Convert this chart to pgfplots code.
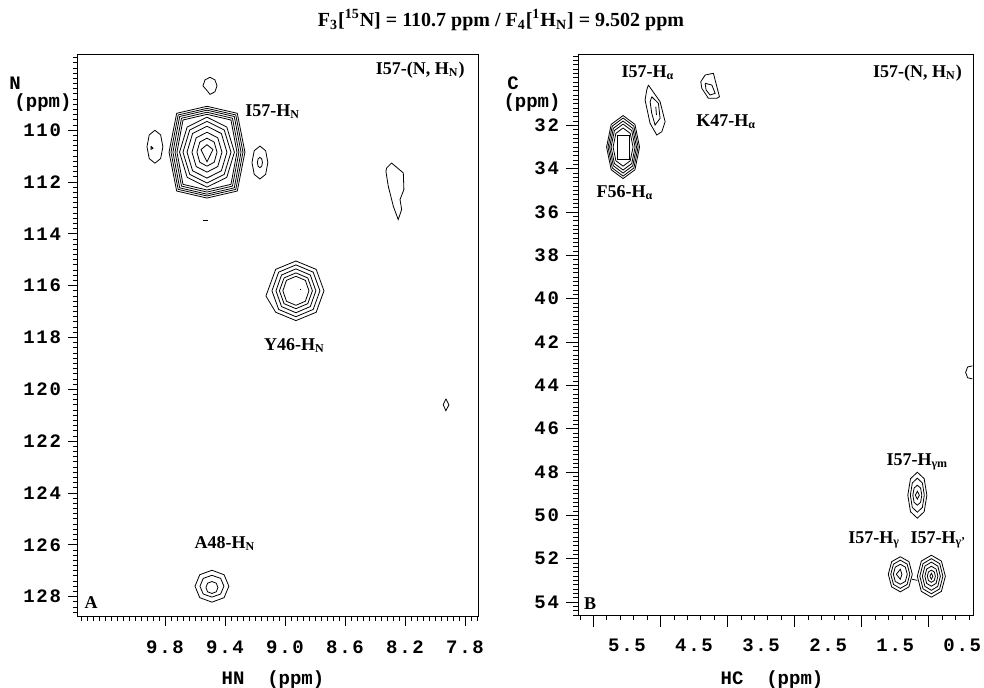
\documentclass[border=0pt]{standalone}
\usepackage{fontspec}
\setmainfont{Liberation Serif}
\setmonofont{Liberation Mono}
\newfontfamily\tickfont{Liberation Mono}[LetterSpace=9]
\usepackage{pgfplots}
\pgfplotsset{compat=1.18}
\tikzset{lbl/.style={font=\fontsize{9}{10}\selectfont\bfseries, inner sep=0pt}}
\pgfplotsset{
  nmr/.style={
    scale only axis, clip=false, axis line style={line width=0.5pt},
    x dir=reverse, y dir=reverse,
    tick align=outside, tick pos=left,
    major tick length=6pt, minor tick length=2.5pt,
    tick style={black, line width=0.4pt},
    tick label style={font=\fontsize{9.5}{10}\selectfont\tickfont\bfseries},
    cycle list={{black, no markers, line width=0.4pt, sharp plot}},
  },
}
\begin{document}
\begin{tikzpicture}
\path[use as bounding box] (0,0) rectangle (492pt,-344pt);
% ---------------- Panel A ----------------
\begin{axis}[nmr, at={(39pt,-27.5pt)}, anchor=north west,
  width=200pt, height=280.5pt,
  xmin=7.713, xmax=10.38, ymin=107.1, ymax=128.75,
  major tick length=5pt,
  xtick={7.8,8.2,8.6,9.0,9.4,9.8}, xticklabels={7.8,8.2,8.6,9.0,9.4,9.8},
  xticklabel style={yshift=-4pt},
  minor xtick={7.72,7.76,...,10.37},
  ytick={110,112,...,128}, yticklabels={110,112,114,116,118,120,122,124,126,128},
  minor ytick={107.2,107.4,...,128.7}]
% I57-HN main peak
\addplot coordinates {(9.773,110.85)(9.722,112.35)(9.52,112.62)(9.318,112.35)(9.267,110.85)(9.318,109.35)(9.52,109.08)(9.722,109.35)(9.773,110.85)};
\addplot coordinates {(9.76,110.85)(9.712,112.287)(9.52,112.54)(9.328,112.287)(9.28,110.85)(9.328,109.413)(9.52,109.16)(9.712,109.413)(9.76,110.85)};
\addplot coordinates {(9.747,110.85)(9.702,112.227)(9.52,112.47)(9.338,112.227)(9.293,110.85)(9.338,109.473)(9.52,109.23)(9.702,109.473)(9.747,110.85)};
\addplot coordinates {(9.733,110.85)(9.69,112.159)(9.52,112.39)(9.35,112.159)(9.307,110.85)(9.35,109.541)(9.52,109.31)(9.69,109.541)(9.733,110.85)};
\addplot coordinates {(9.72,110.85)(9.68,112.091)(9.52,112.31)(9.36,112.091)(9.32,110.85)(9.36,109.609)(9.52,109.39)(9.68,109.609)(9.72,110.85)};
\addplot coordinates {(9.703,110.85)(9.652,111.822)(9.52,112.2)(9.388,111.822)(9.337,110.85)(9.388,109.878)(9.52,109.5)(9.652,109.878)(9.703,110.85)};
\addplot coordinates {(9.68,110.85)(9.635,111.707)(9.52,112.04)(9.405,111.707)(9.36,110.85)(9.405,109.993)(9.52,109.66)(9.635,109.993)(9.68,110.85)};
\addplot coordinates {(9.653,110.85)(9.616,111.57)(9.52,111.85)(9.424,111.57)(9.387,110.85)(9.424,110.13)(9.52,109.85)(9.616,110.13)(9.653,110.85)};
\addplot coordinates {(9.62,110.85)(9.592,111.404)(9.52,111.62)(9.448,111.404)(9.42,110.85)(9.448,110.296)(9.52,110.08)(9.592,110.296)(9.62,110.85)};
\addplot coordinates {(9.587,110.85)(9.568,111.239)(9.52,111.39)(9.472,111.239)(9.453,110.85)(9.472,110.461)(9.52,110.31)(9.568,110.461)(9.587,110.85)};
\addplot coordinates {(9.56,110.75)(9.52,110.56)(9.48,110.75)(9.52,111.22)(9.56,110.75)};
% side peaks
\addplot coordinates {(9.547,108.29)(9.513,108.52)(9.50,108.62)(9.467,108.52)(9.453,108.29)(9.467,108.06)(9.50,107.96)(9.533,108.06)(9.547,108.29)};
\addplot coordinates {(9.92,110.64)(9.905,111.097)(9.867,111.275)(9.829,111.097)(9.814,110.64)(9.829,110.183)(9.867,110.005)(9.905,110.183)(9.92,110.64)};
\addplot coordinates {(9.893,110.62)(9.88,110.7)(9.893,110.74)(9.893,110.62)};
\addplot coordinates {(9.22,111.25)(9.205,111.707)(9.167,111.885)(9.129,111.707)(9.114,111.25)(9.129,110.793)(9.167,110.615)(9.205,110.793)(9.22,111.25)};
\addplot coordinates {(9.184,111.25)(9.179,111.39)(9.167,111.45)(9.155,111.39)(9.15,111.25)(9.155,111.11)(9.167,111.05)(9.179,111.11)(9.184,111.25)};
\addplot coordinates {(9.545,113.48)(9.515,113.48)};
% peak near 8.25
\addplot coordinates {(8.322,111.46)(8.289,111.27)(8.211,111.65)(8.207,112.29)(8.233,112.68)(8.222,113.06)(8.245,113.45)(8.278,112.93)(8.311,112.17)(8.327,111.59)(8.322,111.46)};
% peak near 7.93
\addplot coordinates {(7.927,120.37)(7.907,120.6)(7.927,120.83)(7.945,120.6)(7.927,120.37)};
% Y46-HN
\addplot coordinates {(9.127,116.4)(9.062,117.028)(8.927,117.35)(8.792,117.028)(8.74,116.2)(8.792,115.372)(8.927,115.05)(9.062,115.372)(9.127,116.4)};
\addplot coordinates {(9.087,116.2)(9.042,116.92)(8.927,117.2)(8.812,116.92)(8.767,116.2)(8.812,115.48)(8.927,115.2)(9.042,115.48)(9.087,116.2)};
\addplot coordinates {(9.06,116.2)(9.023,116.809)(8.927,117.046)(8.831,116.809)(8.794,116.2)(8.831,115.591)(8.927,115.354)(9.023,115.591)(9.06,116.2)};
\addplot coordinates {(9.037,116.2)(9.006,116.697)(8.927,116.89)(8.848,116.697)(8.817,116.2)(8.848,115.703)(8.927,115.51)(9.006,115.703)(9.037,116.2)};
\addplot coordinates {(9.014,116.2)(8.99,116.603)(8.927,116.76)(8.864,116.603)(8.84,116.2)(8.864,115.797)(8.927,115.64)(8.99,115.797)(9.014,116.2)};
\addplot coordinates {(8.9,116.14)(8.89,116.14)};
% A48-HN
\addplot coordinates {(9.60,127.6)(9.568,128.043)(9.487,128.215)(9.406,128.043)(9.374,127.6)(9.406,127.157)(9.487,126.985)(9.568,127.157)(9.60,127.6)};
\addplot coordinates {(9.567,127.6)(9.545,127.902)(9.487,128.02)(9.429,127.902)(9.407,127.6)(9.429,127.298)(9.487,127.18)(9.545,127.298)(9.567,127.6)};
\addplot coordinates {(9.527,127.65)(9.516,127.816)(9.487,127.88)(9.458,127.816)(9.447,127.65)(9.458,127.484)(9.487,127.42)(9.516,127.484)(9.527,127.65)};
% labels
\node[lbl, anchor=east] at (axis cs:7.80,107.68) {I57-(N, H\textsubscript{N})};
\node[lbl, anchor=west] at (axis cs:9.267,109.29) {I57-H\textsubscript{N}};
\node[lbl] at (axis cs:8.937,118.3) {Y46-H\textsubscript{N}};
\node[lbl] at (axis cs:9.40,125.95) {A48-H\textsubscript{N}};
\node[lbl] at (axis cs:10.293,128.25) {A};
\end{axis}
% ---------------- Panel B ----------------
\begin{axis}[nmr, at={(289pt,-27.5pt)}, anchor=north west,
  width=197.5pt, height=280pt,
  xmin=0.34, xmax=6.23, ymin=28.75, ymax=54.6,
  xtick={1,2,3,4,5,6}, xticklabels={},
  extra x ticks={0.5,1.5,2.5,3.5,4.5,5.5},
  extra x tick labels={0.5,1.5,2.5,3.5,4.5,5.5},
  extra x tick style={major tick length=0pt},
  xticklabel style={yshift=-8.5pt},
  minor xtick={0.4,0.6,...,6.21},
  ytick={32,34,...,54}, yticklabels={32,34,36,38,40,42,44,46,48,50,52,54},
  minor ytick={28.8,29.0,...,54.6}]
% F56-Ha
\addplot coordinates {(5.804,33.0)(5.735,34.048)(5.558,34.455)(5.381,34.048)(5.312,33.0)(5.381,31.952)(5.558,31.545)(5.735,31.952)(5.804,33.0)};
\addplot coordinates {(5.782,33)(5.719,33.965)(5.558,34.34)(5.397,33.965)(5.334,33)(5.397,32.035)(5.558,31.66)(5.719,32.035)(5.782,33)};
\addplot coordinates {(5.759,33)(5.703,33.864)(5.558,34.2)(5.413,33.864)(5.357,33)(5.413,32.136)(5.558,31.8)(5.703,32.136)(5.759,33)};
\addplot coordinates {(5.737,33)(5.687,33.763)(5.558,34.06)(5.429,33.763)(5.379,33)(5.429,32.237)(5.558,31.94)(5.687,32.237)(5.737,33)};
\addplot coordinates {(5.707,33)(5.665,33.634)(5.558,33.88)(5.451,33.634)(5.409,33)(5.451,32.366)(5.558,32.12)(5.665,32.366)(5.707,33)};
\addplot coordinates {(5.648,32.45)(5.648,33.55)(5.468,33.55)(5.468,32.45)(5.648,32.45)};
% I57-Ha
\addplot coordinates {(5.181,30.136)(5.006,30.907)(4.931,31.831)(4.981,32.293)(5.055,32.445)(5.155,31.905)(5.23,30.829)(5.205,30.367)(5.181,30.136)};
\addplot coordinates {(5.13,30.676)(5.031,30.981)(5.006,31.674)(5.081,31.983)(5.13,31.443)(5.155,30.907)(5.13,30.676)};
\addplot coordinates {(5.07,31.14)(5.06,31.52)};
% K47-Ha
\addplot coordinates {(4.334,29.674)(4.211,29.595)(4.185,29.905)(4.121,30.676)(4.16,30.75)(4.285,30.75)(4.384,30.288)(4.399,29.983)(4.334,29.674)};
\addplot coordinates {(4.334,30.057)(4.234,30.136)(4.185,30.519)(4.26,30.598)(4.32,30.367)(4.334,30.057)};
% edge contour
\addplot coordinates {(0.35,43.1)(0.42,43.15)(0.45,43.4)(0.42,43.65)(0.35,43.7)};
% I57-Hgm
\addplot coordinates {(1.312,49.07)(1.272,49.833)(1.17,50.13)(1.068,49.833)(1.028,49.07)(1.068,48.307)(1.17,48.01)(1.272,48.307)(1.312,49.07)};
\addplot coordinates {(1.274,49.07)(1.245,49.635)(1.17,49.855)(1.095,49.635)(1.066,49.07)(1.095,48.505)(1.17,48.285)(1.245,48.505)(1.274,49.07)};
\addplot coordinates {(1.237,49.07)(1.218,49.401)(1.17,49.53)(1.122,49.401)(1.103,49.07)(1.122,48.739)(1.17,48.61)(1.218,48.739)(1.237,49.07)};
\addplot coordinates {(1.20,49.07)(1.17,49.25)(1.14,49.07)(1.17,48.89)(1.20,49.07)};
% I57-Hg
\addplot coordinates {(1.603,52.72)(1.553,53.303)(1.424,53.53)(1.295,53.303)(1.245,52.72)(1.295,52.137)(1.424,51.91)(1.553,52.137)(1.603,52.72)};
\addplot coordinates {(1.566,52.72)(1.526,53.188)(1.424,53.37)(1.322,53.188)(1.282,52.72)(1.322,52.252)(1.424,52.07)(1.526,52.252)(1.566,52.72)};
\addplot coordinates {(1.528,52.72)(1.499,53.051)(1.424,53.18)(1.349,53.051)(1.32,52.72)(1.349,52.389)(1.424,52.26)(1.499,52.389)(1.528,52.72)};
\addplot coordinates {(1.484,52.72)(1.424,52.95)(1.40,52.72)(1.424,52.49)(1.484,52.72)};
\addplot coordinates {(1.25,52.95)(1.17,53.0)};
% I57-Hg'
\addplot coordinates {(1.17,52.81)(1.111,53.508)(0.961,53.78)(0.811,53.508)(0.752,52.81)(0.811,52.112)(0.961,51.84)(1.111,52.112)(1.17,52.81)};
\addplot coordinates {(1.133,52.81)(1.085,53.393)(0.961,53.62)(0.837,53.393)(0.789,52.81)(0.837,52.227)(0.961,52.0)(1.085,52.227)(1.133,52.81)};
\addplot coordinates {(1.095,52.81)(1.057,53.278)(0.961,53.46)(0.865,53.278)(0.827,52.81)(0.865,52.342)(0.961,52.16)(1.057,52.342)(1.095,52.81)};
\addplot coordinates {(1.058,52.81)(1.031,53.141)(0.961,53.27)(0.891,53.141)(0.864,52.81)(0.891,52.479)(0.961,52.35)(1.031,52.479)(1.058,52.81)};
\addplot coordinates {(1.021,52.81)(1.004,53.01)(0.961,53.09)(0.918,53.01)(0.901,52.81)(0.918,52.61)(0.961,52.53)(1.004,52.61)(1.021,52.81)};
\addplot coordinates {(0.983,52.81)(0.961,52.95)(0.939,52.81)(0.961,52.67)(0.983,52.81)};
% labels
\node[lbl] at (axis cs:5.185,29.58) {I57-H\textsubscript{α}};
\node[lbl] at (axis cs:4.021,31.84) {K47-H\textsubscript{α}};
\node[lbl] at (axis cs:5.529,35.08) {F56-H\textsubscript{α}};
\node[lbl, anchor=east] at (axis cs:0.50,29.58) {I57-(N, H\textsubscript{N})};
\node[lbl] at (axis cs:1.17,47.55) {I57-H\textsubscript{γm}};
\node[lbl] at (axis cs:1.812,51.15) {I57-H\textsubscript{γ}};
\node[lbl] at (axis cs:0.857,51.15) {I57-H\textsubscript{γ’}};
\node[lbl] at (axis cs:6.05,54.06) {B};
\end{axis}
% ---------------- outer texts ----------------
\node[font=\fontsize{10}{12}\selectfont\bfseries] at (250.5pt,-10pt) {F\textsubscript{3}[\textsuperscript{15}N] = 110.7 ppm / F\textsubscript{4}[\textsuperscript{1}H\textsubscript{N}] = 9.502 ppm};
\begin{scope}[every node/.style={font=\fontsize{9.5}{10}\selectfont\ttfamily\bfseries, inner sep=0pt}]
\node at (7.5pt,-41.5pt) {N};
\node at (21.5pt,-51.5pt) {(ppm)};
\node at (256.5pt,-41.5pt) {C};
\node at (266pt,-51.5pt) {(ppm)};
\node at (136.5pt,-340pt) {HN~~(ppm)};
\node at (386pt,-340pt) {HC~~(ppm)};
\end{scope}
\end{tikzpicture}
\end{document}
